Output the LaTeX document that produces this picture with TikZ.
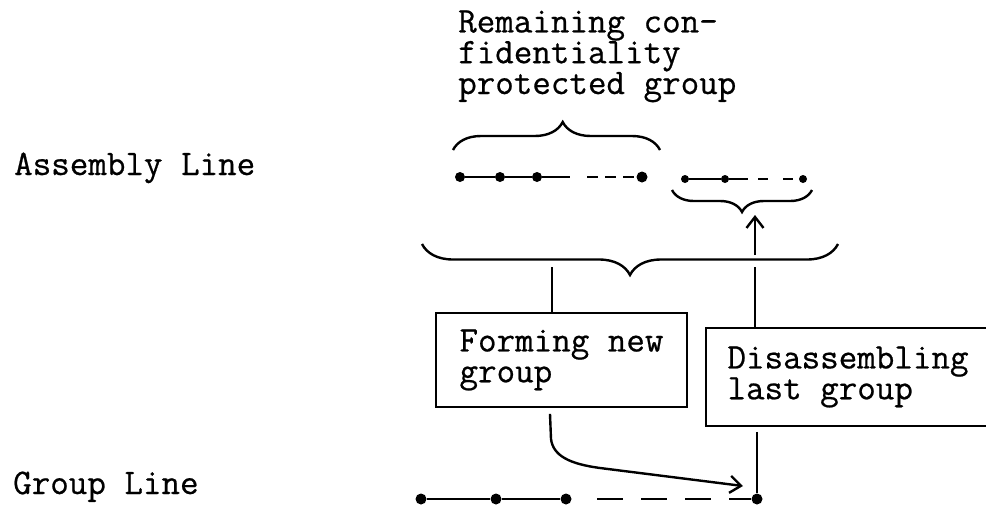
\documentclass[tikz,border=0pt]{standalone}
\usepackage{fontspec}
\setmonofont{Latin Modern Mono}[FakeBold=0.6]
\usetikzlibrary{decorations.pathreplacing,arrows.meta}
\begin{document}
\begin{tikzpicture}[x=1pt,y=-1pt,
  txt/.style={font=\ttfamily\fontsize{36}{30.8}\selectfont, inner sep=0pt, align=left},
  boxnode/.style={draw, line width=1.8pt, font=\ttfamily\fontsize{36}{30.8}\selectfont, align=left, inner sep=0pt},
  bracedeco/.style={decorate, decoration={brace, amplitude=#1}, line width=2.4pt},
  mbracedeco/.style={decorate, decoration={brace, mirror, amplitude=#1}, line width=2.4pt},
  dot/.style={circle, fill, inner sep=0pt, minimum size=#1},
  dot/.default=10pt,
  conn/.style={line width=1.6pt},
  seg/.style={line width=2.2pt},
  tip/.style={-{Straight Barb[length=11pt,width=17pt,line width=2.4pt]}}]
\useasboundingbox (0,0) rectangle (986,504);
\clip (0,0) rectangle (986,504);

% labels
\node[txt, anchor=base west] (asm) at (14,175) {Assembly Line};
\node[txt, anchor=base west] (grp) at (13,494) {Group Line};
\node[txt, anchor=base west] (rem) at (458,94) {Remaining con-\\fidentiality\\protected group};

% boxes
\node[boxnode, minimum width=251pt, minimum height=94pt] (b1) at (561.5,360) {Forming new\\group};
\node[boxnode, minimum width=284pt, minimum height=98pt] (b2) at (848,377) {Disassembling\\last group};

% assembly line, remaining group
\node[dot] (a1) at (460,177) {};
\node[dot] (a2) at (500,177) {};
\node[dot] (a3) at (537,177) {};
\node[dot=11pt] (a4) at (642,177) {};
\coordinate (a3e) at (570,177);
\coordinate (a4s) at (587,177);
\draw[seg] (a1) -- (a2) -- (a3) -- (a3e);
\draw[seg, dash pattern=on 11pt off 7pt] (a4s) -- (a4);

% assembly line, last group
\node[dot=8pt] (s1) at (685,179) {};
\node[dot=8pt] (s2) at (725,179) {};
\node[dot=8pt] (s3) at (803,179) {};
\coordinate (s2e) at (748,179);
\coordinate (s3s) at (758,179);
\draw[seg] (s1) -- (s2) -- (s2e);
\draw[seg, dash pattern=on 10pt off 15pt] (s3s) -- (s3);

% group line
\node[dot=11pt] (g1) at (421,499) {};
\node[dot=11pt] (g2) at (496,499) {};
\node[dot=11pt] (g3) at (566,499) {};
\node[dot=11pt] (g4) at (757,499) {};
\coordinate (g3s) at (597,499);
\draw[seg] (g1) -- (g2) -- (g3);
\draw[seg, line width=2.6pt, dash pattern=on 26pt off 18pt] (g3s) -- (g4);

% braces
\draw[bracedeco=28pt, decoration={aspect=0.53}] (453,150) -- (660,150);
\draw[mbracedeco=22pt] (672,190) -- (812,190);
\draw[mbracedeco=31pt] (422,244) -- (838,244);

% connectors
\coordinate (c1) at (552,267);
\draw[conn] (b1.north -| c1) -- (c1);
\coordinate (c2bot) at (755,267);
\coordinate (c2top) at (755,255);
\coordinate (stip) at (755,215);
\draw[conn] (b2.north -| c2bot) -- (c2bot);
\draw[conn, tip] (c2top) -- (stip);
\draw[conn, shorten <=5pt] (b2.south -| g4) -- (g4);
\coordinate (gtip) at (743,486);
\draw[conn, line width=2.4pt, tip] ([xshift=-11.5pt,yshift=-6pt]b1.south) -- ++(1,25)
  .. controls ++(2,17) and (570,464) .. (600,468) -- (gtip);
\end{tikzpicture}
\end{document}
